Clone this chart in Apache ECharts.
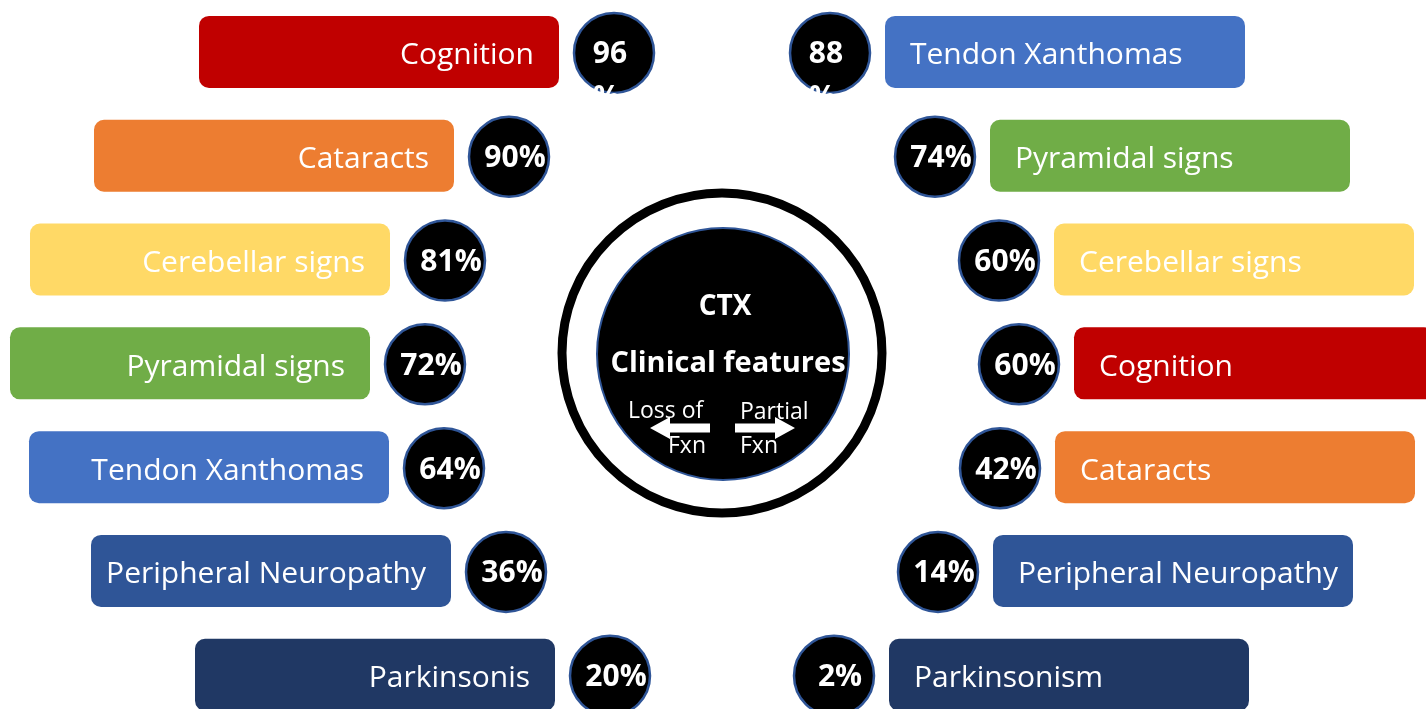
<!DOCTYPE html>
<html><head><meta charset="utf-8">
<script src="https://cdn.jsdelivr.net/npm/echarts@6/dist/echarts.min.js"></script>
<style>html,body{margin:0;padding:0;background:#fff;overflow:hidden}#chart{width:1426px;height:709px}</style>
</head><body><div id="chart"></div>
<script>
// ---- data ----
const rowIndex = [0, 1, 2, 3, 4, 5, 6];
const leftLabels = ['Cognition', 'Cataracts', 'Cerebellar signs', 'Pyramidal signs', 'Tendon Xanthomas', 'Peripheral Neuropathy', 'Parkinsonis'];
const leftValues = [96, 90, 81, 72, 64, 36, 20];
const rightLabels = ['Tendon Xanthomas', 'Pyramidal signs', 'Cerebellar signs', 'Cognition', 'Cataracts', 'Peripheral Neuropathy', 'Parkinsonism'];
const rightValues = [88, 74, 60, 60, 42, 14, 2];
const centerTitle = 'CTX';
const centerSubtitle = 'Clinical features';
const leftArrowLabel = ['Loss of', 'Fxn'];
const rightArrowLabel = ['Partial', 'Fxn'];

// ---- styles / layout ----
const featureColors = {
  'Cognition': '#C00000', 'Cataracts': '#ED7D31', 'Cerebellar signs': '#FFD966',
  'Pyramidal signs': '#70AD47', 'Tendon Xanthomas': '#4472C4',
  'Peripheral Neuropathy': '#2F5597', 'Parkinsonis': '#203864', 'Parkinsonism': '#203864'
};
const CENTER_X = 722, CENTER_Y = 353;
const arcOffset = [108, 213, 277, 297, 278, 216, 112];
const BAR_W = 360, BAR_H = 72, GAP = 55, PAD = 25, BUBBLE_R = 40;
const FONT = '"Open Sans", "Liberation Sans", sans-serif';

function colorOf(label) {
  return featureColors[label] || '#203864';
}

function makeRender(side) {
  const labels = side === 'L' ? leftLabels : rightLabels;
  return function (params, api) {
    const i = api.value(0);
    const v = api.value(1);
    const label = labels[i];
    const xVal = side === 'L' ? CENTER_X - arcOffset[i] : CENTER_X + arcOffset[i];
    const pt = api.coord([xVal, i]);
    const cx = pt[0], cy = pt[1];
    const barX = side === 'L' ? cx - GAP - BAR_W : cx + GAP;
    const children = [
      { type: 'rect', shape: { x: barX, y: cy - BAR_H / 2, width: BAR_W, height: BAR_H, r: 10 },
        style: { fill: colorOf(label) } },
      { type: 'text', style: { text: label, x: side === 'L' ? barX + BAR_W - PAD : barX + PAD, y: cy + 4,
        align: side === 'L' ? 'right' : 'left', verticalAlign: 'middle', fill: '#fff',
        fontSize: 30, fontFamily: FONT } },
      { type: 'circle', shape: { cx: cx, cy: cy + 1, r: BUBBLE_R },
        style: { fill: '#000', stroke: '#2F5597', lineWidth: 2.5 } }
    ];
    if (i === 0) {
      children.push({ type: 'text', style: { text: String(v), x: cx - 4, y: cy + 3, align: 'center', verticalAlign: 'middle',
        fill: '#fff', fontSize: 30, fontWeight: 'bold', fontFamily: FONT } });
      children.push({ type: 'text', style: { text: '%', x: cx - 21, y: cy + 47, align: 'left', verticalAlign: 'middle',
        fill: '#fff', fontSize: 30, fontWeight: 'bold', fontFamily: FONT } });
      children.push({ type: 'rect', shape: { x: cx - 24, y: cy + 44, width: 30, height: 22 }, style: { fill: '#fff' } });
    } else {
      children.push({ type: 'text', style: { text: v + '%', x: cx + 6, y: cy + 3, align: 'center', verticalAlign: 'middle',
        fill: '#fff', fontSize: 30, fontWeight: 'bold', fontFamily: FONT } });
    }
    return { type: 'group', children: children };
  };
}

const chart = echarts.init(document.getElementById('chart'), null, { renderer: 'canvas' });
const txt = (t, x, y, size, weight, align) => ({ type: 'text', x: x, y: y, z: 10,
  style: { text: t, fill: '#fff', fontSize: size, fontWeight: weight || 'normal', fontFamily: FONT,
    align: align || 'center', verticalAlign: 'middle' } });

chart.setOption({
  animation: false,
  backgroundColor: '#fff',
  grid: { left: 0, right: 0, top: 0, bottom: 0 },
  xAxis: { type: 'value', min: 0, max: 1426, show: false },
  yAxis: { type: 'value', min: -0.5, max: 6.33, inverse: true, show: false },
  series: [
    { type: 'custom', name: 'left', renderItem: makeRender('L'), clip: false,
      data: leftValues.map((v, i) => [rowIndex[i], v]) },
    { type: 'custom', name: 'right', renderItem: makeRender('R'), clip: false,
      data: rightValues.map((v, i) => [rowIndex[i], v]) }
  ],
  graphic: [
    { type: 'circle', shape: { cx: CENTER_X, cy: CENTER_Y, r: 160 }, z: 5,
      style: { fill: 'none', stroke: '#000', lineWidth: 9 } },
    { type: 'circle', shape: { cx: CENTER_X + 1, cy: CENTER_Y + 1, r: 126 }, z: 5,
      style: { fill: '#000', stroke: '#2F5597', lineWidth: 2 } },
    txt(centerTitle, 725, 307, 28, 'bold'),
    txt(centerSubtitle, 728, 364, 29, 'bold'),
    txt(leftArrowLabel[0], 628, 411, 23, 'normal', 'left'),
    txt(leftArrowLabel[1], 668, 446, 23, 'normal', 'left'),
    txt(rightArrowLabel[0], 740, 412, 23, 'normal', 'left'),
    txt(rightArrowLabel[1], 740, 446, 23, 'normal', 'left'),
    { type: 'polygon', z: 11, shape: { points: [[650, 428], [670, 417], [670, 423.5], [710, 423.5], [710, 432.5], [670, 432.5], [670, 439]] },
      style: { fill: '#fff' } },
    { type: 'polygon', z: 11, shape: { points: [[795, 428], [775, 417], [775, 423.5], [735, 423.5], [735, 432.5], [775, 432.5], [775, 439]] },
      style: { fill: '#fff' } }
  ]
});
</script>
</body></html>
